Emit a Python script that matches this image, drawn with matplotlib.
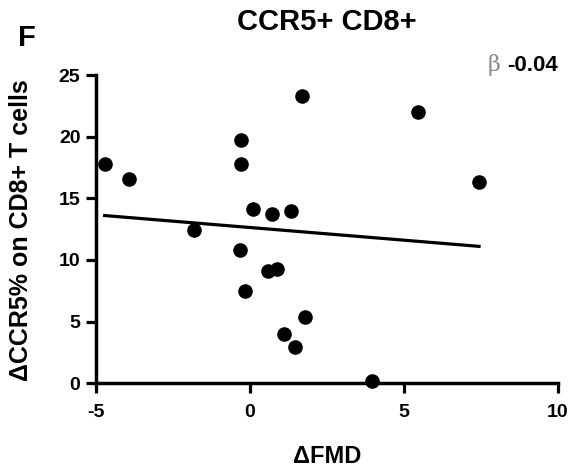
import matplotlib
matplotlib.use("Agg")
import matplotlib.pyplot as plt

plt.rcParams["font.family"] = ["Liberation Sans", "DejaVu Sans"]
plt.rcParams["axes.unicode_minus"] = False

# Delta FMD vs delta CCR5% on CD8+ T cells
fmd = [-4.71, -3.93, -1.82, -0.29, -0.29, -0.32, -0.16, 0.10, 0.71, 1.33,
       0.58, 0.88, 1.10, 1.46, 1.79, 1.69, 3.96, 5.45, 7.44]
ccr5 = [17.8, 16.6, 12.4, 19.7, 17.8, 10.8, 7.5, 14.1, 13.7, 14.0,
        9.1, 9.3, 4.0, 2.9, 5.4, 23.3, 0.2, 22.0, 16.3]

# regression line end points
fit_x = [-4.71, 7.44]
fit_y = [13.6, 11.1]

xticks = [-5, 0, 5, 10]
yticks = [0, 5, 10, 15, 20, 25]

fig = plt.figure(figsize=(5.8, 4.69), dpi=100)
ax = fig.add_axes([0.165, 0.183, 0.797, 0.657])

ax.scatter(fmd, ccr5, s=90, color="black", zorder=3, clip_on=False)
ax.plot(fit_x, fit_y, color="black", lw=2.3)

ax.set_xlim(-5, 10)
ax.set_ylim(0, 25)
ax.set_xticks(xticks)
ax.set_yticks(yticks)
ax.spines[["top", "right"]].set_visible(False)
for s in ["left", "bottom"]:
    ax.spines[s].set_linewidth(2.5)
ax.tick_params(direction="out", length=7, width=2.3, labelsize=14)
ax.tick_params(axis="x", pad=8)
ax.tick_params(axis="y", pad=4)
for lbl in ax.get_xticklabels() + ax.get_yticklabels():
    lbl.set_fontweight("bold")

ax.set_ylabel("\u0394CCR5% on CD8+ T cells", fontsize=18, fontweight="bold")
ax.yaxis.set_label_coords(-0.136, 0.497)
ax.set_xlabel("\u0394FMD", fontsize=17, fontweight="bold")
ax.xaxis.set_label_coords(0.5, -0.2)

fig.text(0.564, 0.953, "CCR5+ CD8+", fontsize=21, fontweight="bold",
         ha="center", va="center")
fig.text(0.031, 0.919, "F", fontsize=21, fontweight="bold", va="center")
fig.text(0.863, 0.861, "\u03b2", fontsize=16, color="#8a8a8a",
         family=["DejaVu Serif"], ha="right", va="center")
fig.text(0.874, 0.861, "-0.04", fontsize=16, fontweight="bold",
         ha="left", va="center")

fig.savefig("out.png", dpi=100)
